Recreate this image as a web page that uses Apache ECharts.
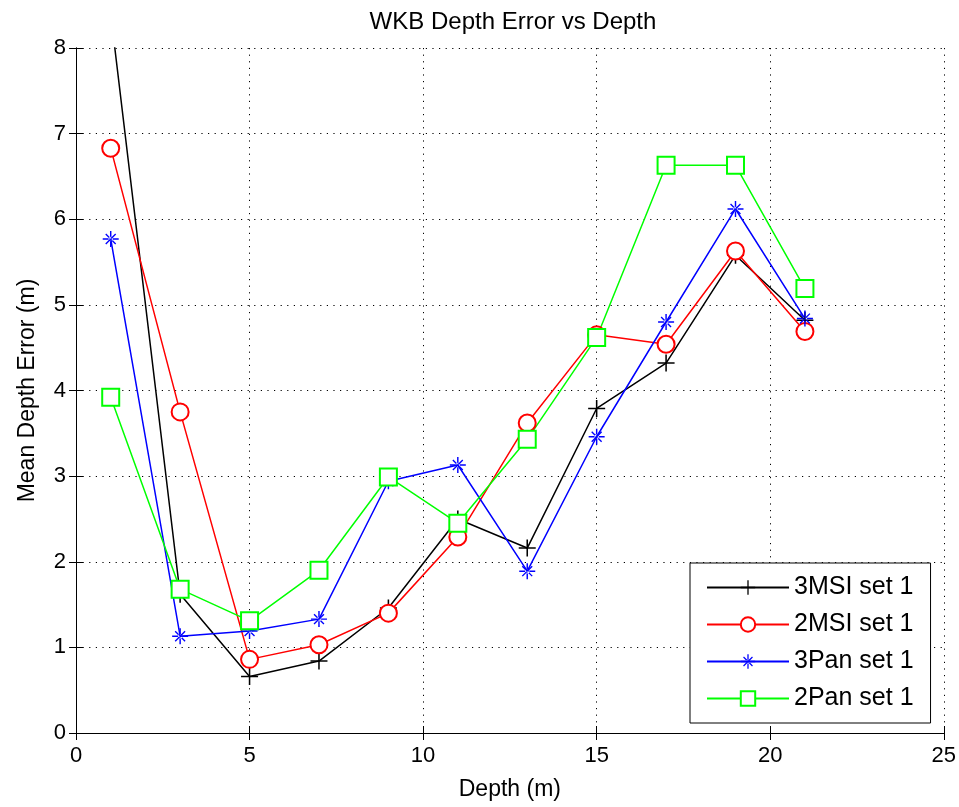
<!DOCTYPE html>
<html>
<head>
<meta charset="utf-8">
<script src="https://cdn.jsdelivr.net/npm/echarts@6/dist/echarts.min.js"></script>
<style>
html,body{margin:0;padding:0;background:#fff;}
#chart{width:959px;height:807px;}
</style>
</head>
<body>
<div id="chart"></div>
<script>
var depths = [1, 3, 5, 7, 9, 11, 13, 15, 17, 19, 21];
var msi3Set1 = [8.4, 1.62, 0.66, 0.84, 1.46, 2.50, 2.16, 3.79, 4.32, 5.58, 4.82];
var msi2Set1 = [6.83, 3.75, 0.86, 1.03, 1.40, 2.29, 3.62, 4.65, 4.54, 5.63, 4.69];
var pan3Set1 = [5.77, 1.13, 1.19, 1.33, 2.94, 3.13, 1.89, 3.46, 4.80, 6.12, 4.84];
var pan2Set1 = [3.92, 1.68, 1.31, 1.90, 2.99, 2.45, 3.43, 4.62, 6.63, 6.63, 5.19];
var seriesNames = ['3MSI set 1', '2MSI set 1', '3Pan set 1', '2Pan set 1'];
var xTicks = [0, 5, 10, 15, 20, 25];
var yTicks = [0, 1, 2, 3, 4, 5, 6, 7, 8];

var FONT = "'Liberation Sans', Arial, sans-serif";
function pairs(vals) { return depths.map(function (d, i) { return [d, vals[i]]; }); }

var plusPath = 'path://M4.55,0 H5.45 V4.55 H10 V5.45 H5.45 V10 H4.55 V5.45 H0 V4.55 H4.55 Z';
var starPath = 'path://M4.55,0 H5.45 V4.55 H10 V5.45 H5.45 V10 H4.55 V5.45 H0 V4.55 H4.55 Z ' +
  'M1.6,2.2 L2.2,1.6 L8.4,7.8 L7.8,8.4 Z M8.4,2.2 L7.8,1.6 L1.6,7.8 L2.2,8.4 Z ' +
  'M3.6,5 A1.4,1.4 0 1 0 6.4,5 A1.4,1.4 0 1 0 3.6,5 Z';

function mkSeries(name, vals, color, symbol, size, extra) {
  var s = {
    name: name,
    type: 'line',
    data: pairs(vals),
    symbol: symbol,
    symbolSize: size,
    showAllSymbol: true,
    clip: true,
    lineStyle: { color: color, width: 1.5 },
    itemStyle: { color: color, borderColor: color, borderWidth: 1.5 },
    emphasis: { disabled: true },
    animation: false
  };
  if (extra) { for (var k in extra) s[k] = extra[k]; }
  return s;
}

var chart = echarts.init(document.getElementById('chart'), null, { renderer: 'canvas' });
var axisCommon = {
  axisLine: { show: true, lineStyle: { color: '#000', width: 1 } },
  axisTick: { show: true, inside: true, length: 7, lineStyle: { color: '#000' } }
};
chart.setOption({
  backgroundColor: '#fff',
  animation: false,
  textStyle: { fontFamily: FONT },
  title: {
    text: 'WKB Depth Error vs Depth',
    left: 508, textAlign: 'center', top: 5,
    textStyle: { fontFamily: FONT, fontSize: 24, fontWeight: 'normal', color: '#000' }
  },
  grid: { left: 76, right: 15, top: 48, bottom: 74, containLabel: false },
  legend: {
    orient: 'vertical',
    left: 690, top: 563,
    padding: [12, 17, 12, 16],
    itemWidth: 82, itemHeight: 18, itemGap: 12,
    backgroundColor: '#fff',
    borderColor: '#000', borderWidth: 1,
    textStyle: { fontFamily: FONT, fontSize: 25, color: '#000' },
    data: seriesNames
  },
  xAxis: [
    Object.assign({
      type: 'value', min: 0, max: 25, interval: 5, position: 'bottom',
      name: 'Depth (m)', nameLocation: 'middle', nameGap: 45,
      nameTextStyle: { fontFamily: FONT, fontSize: 23, color: '#000' },
      axisLabel: { fontFamily: FONT, fontSize: 22, color: '#000', margin: 12,
        formatter: function (v) { return xTicks.indexOf(v) >= 0 ? String(v) : ''; } },
      splitLine: { show: true, lineStyle: { color: '#000', width: 1, type: [1.2, 5.4] } }
    }, axisCommon),
    Object.assign({
      type: 'value', min: 0, max: 25, interval: 5, position: 'top',
      axisLabel: { show: false }, splitLine: { show: false }
    }, axisCommon)
  ],
  yAxis: [
    Object.assign({
      type: 'value', min: 0, max: 8, interval: 1, position: 'left',
      name: 'Mean Depth Error (m)', nameLocation: 'middle', nameGap: 37,
      nameTextStyle: { fontFamily: FONT, fontSize: 23, color: '#000' },
      axisLabel: { fontFamily: FONT, fontSize: 22, color: '#000', margin: 10,
        formatter: function (v) { return yTicks.indexOf(v) >= 0 ? String(v) : ''; } },
      splitLine: { show: true, lineStyle: { color: '#000', width: 1, type: [1.2, 5.4] } }
    }, axisCommon),
    Object.assign({
      type: 'value', min: 0, max: 8, interval: 1, position: 'right',
      axisLabel: { show: false }, splitLine: { show: false }
    }, axisCommon)
  ],
  series: [
    mkSeries(seriesNames[0], msi3Set1, '#000000', plusPath, 17, { itemStyle: { color: '#000000' } }),
    mkSeries(seriesNames[1], msi2Set1, '#ff0000', 'emptyCircle', 17),
    mkSeries(seriesNames[2], pan3Set1, '#0000ff', starPath, 16, { itemStyle: { color: '#0000ff' } }),
    mkSeries(seriesNames[3], pan2Set1, '#00ff00', 'emptyRect', 17)
  ]
});
</script>
</body>
</html>
